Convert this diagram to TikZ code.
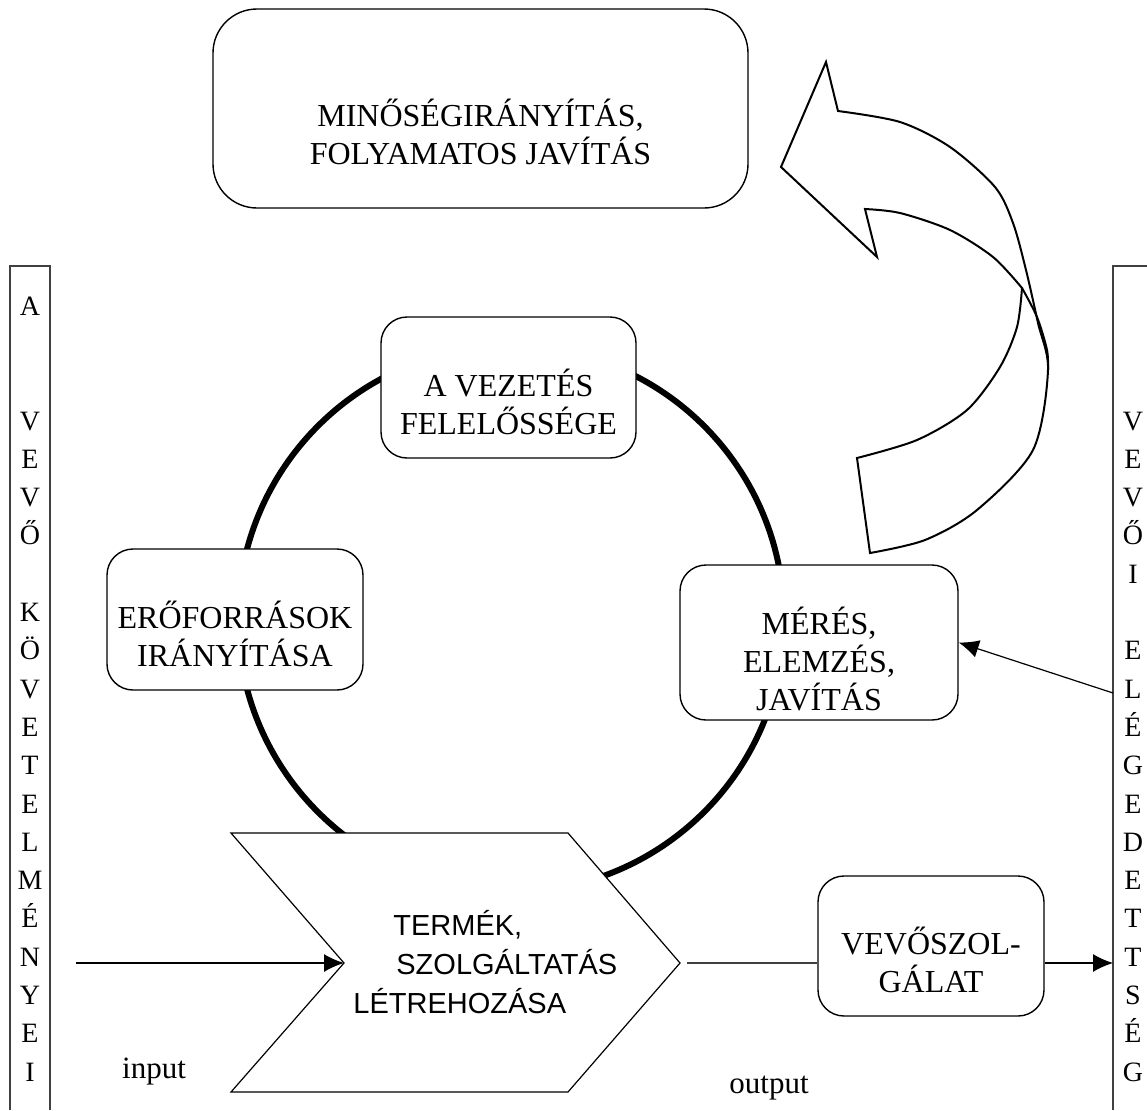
\documentclass[tikz,border=0pt]{standalone}
\usepackage{fontspec}
\setmainfont{Liberation Serif}
\newfontfamily\chevronfont{Liberation Sans}
\usetikzlibrary{arrows.meta}

\begin{document}
\begin{tikzpicture}[x=0.5pt, y=-0.5pt,
  box/.style={draw, rounded corners=13pt, fill=white, line width=0.7pt},
  txt/.style={align=center, inner sep=0pt, font=\fontsize{16pt}{19pt}\selectfont},
  letter/.style={anchor=base, inner sep=0pt, font=\fontsize{14pt}{17pt}\selectfont},
  arr/.style={-{Latex[length=10pt, width=9pt]}, line width=0.6pt}]

\useasboundingbox (0,0) rectangle (1147,1110);

% Draw the big circle behind the boxes
\draw[line width=3pt] (511,619) circle [radius=273];

% Draw the two side columns
\draw[line width=0.6pt, black!75] (10,1110) -- (10,266) -- (50,266) -- (50,1110);
\draw[line width=0.6pt, black!75] (1113,1110) -- (1113,266) -- (1147,266);

% Letters of the columns
\foreach \ch/\k in {A/-3, V/0, E/1, V/2, Ő/3, K/5, Ö/6, V/7, E/8, T/9, E/10, L/11, M/12, É/13, N/14, Y/15, E/16, I/17}
  \node[letter] (req-\k) at (30, 430+38.3*\k) {\ch};
\foreach \ch/\k in {V/0, E/1, V/2, Ő/3, I/4, E/6, L/7, É/8, G/9, E/10, D/11, E/12, T/13, T/14, S/15, É/16, G/17}
  \node[letter] (sat-\k) at (1133, 430+38.3*\k) {\ch};

% Draw the boxes
\node[box, rounded corners=22pt, minimum width=267.5pt, minimum height=99.5pt] (quality) at (480.5,108.5) {};
\node[txt, yshift=-12pt] (qualitytxt) at (quality) {MINŐSÉGIRÁNYÍTÁS,\\ FOLYAMATOS JAVÍTÁS};

\node[box, minimum width=127.5pt, minimum height=70.5pt] (lead) at (508.5,387.5) {};
\node[txt, yshift=-7pt] (leadtxt) at (lead) {A VEZETÉS\\FELELŐSSÉGE};

\node[box, minimum width=128pt, minimum height=70.5pt] (resources) at (235,619.5) {};
\node[txt, yshift=-7pt] (resourcestxt) at (resources) {ERŐFORRÁSOK\\IRÁNYÍTÁSA};

\node[box, minimum width=139pt, minimum height=77.5pt] (measure) at (819,642.5) {};
\node[txt, yshift=-8pt] (measuretxt) at (measure) {MÉRÉS,\\ELEMZÉS,\\JAVÍTÁS};

\node[box, minimum width=113pt, minimum height=70pt] (service) at (931,946) {};
\node[txt, yshift=-7pt] (servicetxt) at (service) {VEVŐSZOL-\\GÁLAT};

% Draw the chevron
\filldraw[fill=white, line width=0.6pt] (231,833) -- (568,833) -- (680,963) coordinate (tip)
  -- (568,1092) -- (231,1092) -- (344,963) coordinate (notch) -- cycle;
\node[anchor=west, align=left, inner sep=0pt, font=\chevronfont\fontsize{14.5pt}{19.5pt}\selectfont] (product) at (353,962)
  {\hspace*{20pt}TERMÉK,\\\hspace*{21.5pt}SZOLGÁLTATÁS\\LÉTREHOZÁSA};

% Draw the curved arrow
\filldraw[fill=white, line width=1pt] (857,458) -- (870,553)
  -- plot[smooth] coordinates {(870,553) (925,540) (977,510) (1033,450) (1048,370) (1038,323) (1026,270) (1013,223) (995,187) (950,147) (900,122) (838,111)}
  -- (826,62) -- (781,167) -- (877,257) -- (865,209)
  -- plot[smooth] coordinates {(865,209) (900,213) (950,230) (993,257) (1022,288)}
  -- plot[smooth] coordinates {(1022,288) (1017,327) (1000,367) (967,410) (917,440) (857,458)}
  -- cycle;
\draw[line width=1pt] plot[smooth] coordinates {(1022,288) (1037,317) (1047,350) (1048,370)};

% Input and output connectors
\coordinate (reqin) at (76,963);
\coordinate (satin) at (1113,963);
\coordinate (satout) at (1113,693);
\draw[arr] (reqin) -- (notch);
\draw[line width=0.6pt, black!75, shorten <=3.5pt] (tip) -- (tip -| service.west);
\draw[arr] (tip -| service.east) -- (satin);
\draw[arr] (satout) -- (measure.east);

% Labels
\node[letter, font=\fontsize{15.5pt}{18pt}\selectfont] (input) at (154,1078) {input};
\node[letter, font=\fontsize{15.5pt}{18pt}\selectfont] (output) at (769,1093) {output};
\end{tikzpicture}
\end{document}
